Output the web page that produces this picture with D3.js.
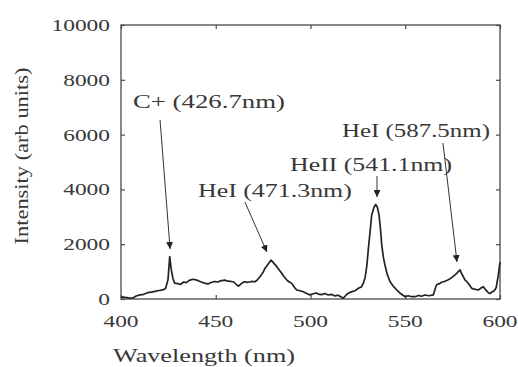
<!DOCTYPE html>
<html>
<head>
<meta charset="utf-8">
<script src="https://cdn.jsdelivr.net/npm/d3@7"></script>
<style>
  html, body { margin: 0; padding: 0; background: #fff; }
</style>
</head>
<body>
<div id="chart"></div>
<script>
// ---- data ----
const wavelength = [400, 402, 404, 406, 408, 410, 412, 414, 416, 418, 420, 422, 423.5, 424.8, 425.7, 426.5, 427.4, 428.3, 430, 431.5, 433, 434.5, 436, 438, 439.5, 441, 442.4, 444, 445.9, 447.5, 449.4, 451, 452.5, 454.7, 456.5, 458, 459.5, 461, 462, 463.5, 465, 467, 469, 470.7, 472, 473.4, 475, 476, 477.5, 479.2, 480.5, 482.2, 483.5, 484.8, 486, 487.4, 488.8, 490.1, 491.5, 492.7, 494.5, 496.2, 498, 499.7, 501.5, 503, 504.1, 506, 507.5, 509.4, 511, 512.9, 514.5, 516, 517.3, 518.5, 519.9, 521.5, 523.5, 525, 527, 528, 528.8, 529.7, 530.5, 531.5, 532.3, 533.5, 534.4, 535.3, 536.2, 537, 537.6, 538.5, 539.3, 540.5, 542, 543.5, 545.5, 547.5, 549.9, 551.5, 553, 555.1, 557, 558.5, 560.4, 562.5, 564.8, 566, 566.6, 568, 569.2, 571, 572.7, 574.5, 576.3, 577.5, 578.9, 579.8, 580.6, 581.5, 582.4, 583.8, 585.1, 586.5, 588.6, 590, 591.2, 592.5, 594, 594.7, 596, 597, 598, 599.1, 600];
const intensity = [80, 60, 40, 30, 110, 150, 170, 230, 250, 280, 310, 330, 380, 700, 1544, 1080, 750, 580, 560, 530, 620, 600, 680, 720, 700, 660, 620, 580, 550, 600, 640, 620, 660, 690, 650, 640, 620, 520, 470, 560, 630, 610, 640, 630, 700, 820, 980, 1120, 1260, 1420, 1320, 1180, 1060, 940, 820, 700, 620, 570, 430, 330, 300, 266, 200, 150, 190, 220, 180, 160, 200, 146, 170, 110, 140, 80, 30, 120, 210, 260, 300, 380, 450, 600, 780, 1200, 1800, 2500, 3066, 3350, 3450, 3350, 3050, 2500, 1970, 1500, 1240, 900, 630, 480, 330, 200, 84, 120, 90, 84, 130, 100, 146, 120, 150, 420, 520, 560, 610, 650, 700, 780, 880, 960, 1060, 920, 820, 700, 640, 520, 390, 360, 330, 400, 450, 330, 220, 200, 270, 300, 420, 870, 1350];

const xTicks = [400, 450, 500, 550, 600];
const yTicks = [0, 2000, 4000, 6000, 8000, 10000];

const xLabel = "Wavelength (nm)";
const yLabel = "Intensity (arb units)";

// annotations: label anchor (data units), arrow start and tip (data units)
const annoText = ["C+ (426.7nm)", "HeI (471.3nm)", "HeII (541.1nm)", "HeI (587.5nm)"];
const annoLabelX = [406.3, 440.6, 489.2, 516.6];
const annoLabelY = [6971, 3723, 4672, 5912];
const annoFromX = [420.6, 465.4, 535.1, 569.9];
const annoFromY = [6533, 3540, 4489, 5693];
const annoToX = [425.9, 477.0, 535.1, 577.3];
const annoToY = [1825, 1715, 3723, 1350];

// ---- layout ----
const W = 518, H = 367;
const margin = {left: 121, top: 25, right: 18, bottom: 68};
const iw = W - margin.left - margin.right;
const ih = H - margin.top - margin.bottom;
const FONT = "'Liberation Serif', Tinos, 'Times New Roman', Times, serif";
const textColor = "#383838";

const svg = d3.select("#chart").append("svg")
  .attr("width", W).attr("height", H)
  .attr("font-family", FONT);

const defs = svg.append("defs");
defs.append("marker")
  .attr("id", "arrow")
  .attr("viewBox", "0 0 10 10")
  .attr("refX", 10).attr("refY", 5)
  .attr("markerWidth", 7).attr("markerHeight", 7)
  .attr("markerUnits", "userSpaceOnUse")
  .attr("orient", "auto")
  .append("path").attr("d", "M0,0 L10,5 L0,10 Z").attr("fill", "#222");

const g = svg.append("g").attr("transform", `translate(${margin.left},${margin.top})`);

const x = d3.scaleLinear().domain([400, 600]).range([0, iw]);
const y = d3.scaleLinear().domain([0, 10000]).range([ih, 0]);

const tickLen = 4;
const axisColor = "#4a4a4a";

function styleAxis(sel) {
  sel.select(".domain").remove();
  sel.selectAll(".tick line").attr("stroke", axisColor).attr("stroke-width", 1.2);
}
g.append("g").attr("transform", `translate(0,${ih})`)
  .call(d3.axisBottom(x).tickValues(xTicks).tickSize(-tickLen).tickFormat(""))
  .call(styleAxis);
g.append("g")
  .call(d3.axisTop(x).tickValues(xTicks).tickSize(-tickLen).tickFormat(""))
  .call(styleAxis);
g.append("g")
  .call(d3.axisLeft(y).tickValues(yTicks).tickSize(-tickLen).tickFormat(""))
  .call(styleAxis);
g.append("g").attr("transform", `translate(${iw},0)`)
  .call(d3.axisRight(y).tickValues(yTicks).tickSize(-tickLen).tickFormat(""))
  .call(styleAxis);

g.append("rect").attr("x", 0).attr("y", 0).attr("width", iw).attr("height", ih)
  .attr("fill", "none").attr("stroke", axisColor).attr("stroke-width", 1.3);

const digitW = 11.7;
g.selectAll(".ylab").data(yTicks).enter().append("text")
  .attr("x", -11)
  .attr("y", d => y(d) + 6)
  .attr("text-anchor", "end")
  .attr("font-size", 17)
  .attr("fill", textColor)
  .attr("textLength", d => String(d).length * digitW)
  .attr("lengthAdjust", "spacingAndGlyphs")
  .text(d => d);

g.selectAll(".xlab").data(xTicks).enter().append("text")
  .attr("x", d => x(d))
  .attr("y", ih + 28)
  .attr("text-anchor", "middle")
  .attr("font-size", 17)
  .attr("fill", textColor)
  .attr("textLength", d => String(d).length * digitW)
  .attr("lengthAdjust", "spacingAndGlyphs")
  .text(d => d);

svg.append("text")
  .attr("x", 204).attr("y", 362)
  .attr("text-anchor", "middle")
  .attr("font-size", 19)
  .attr("fill", textColor)
  .attr("textLength", 182)
  .attr("lengthAdjust", "spacingAndGlyphs")
  .text(xLabel);

svg.append("text")
  .attr("transform", "translate(28,156) rotate(-90)")
  .attr("text-anchor", "middle")
  .attr("font-size", 19)
  .attr("fill", textColor)
  .attr("textLength", 177)
  .attr("lengthAdjust", "spacingAndGlyphs")
  .text(yLabel);

const pts = wavelength.map((w, i) => [w, intensity[i]]);
g.append("path")
  .datum(pts)
  .attr("fill", "none")
  .attr("stroke", "#222")
  .attr("stroke-width", 1.7)
  .attr("stroke-linejoin", "round")
  .attr("d", d3.line().x(d => x(d[0])).y(d => y(d[1])));

const annoWidths = [152, 154, 162, 148];
annoText.forEach((t, i) => {
  g.append("text")
    .attr("x", x(annoLabelX[i]))
    .attr("y", y(annoLabelY[i]))
    .attr("font-size", 18)
    .attr("fill", textColor)
    .attr("textLength", annoWidths[i])
    .attr("lengthAdjust", "spacingAndGlyphs")
    .text(t);
  g.append("line")
    .attr("x1", x(annoFromX[i])).attr("y1", y(annoFromY[i]))
    .attr("x2", x(annoToX[i])).attr("y2", y(annoToY[i]))
    .attr("stroke", "#333").attr("stroke-width", 1)
    .attr("marker-end", "url(#arrow)");
});
</script>
</body>
</html>
